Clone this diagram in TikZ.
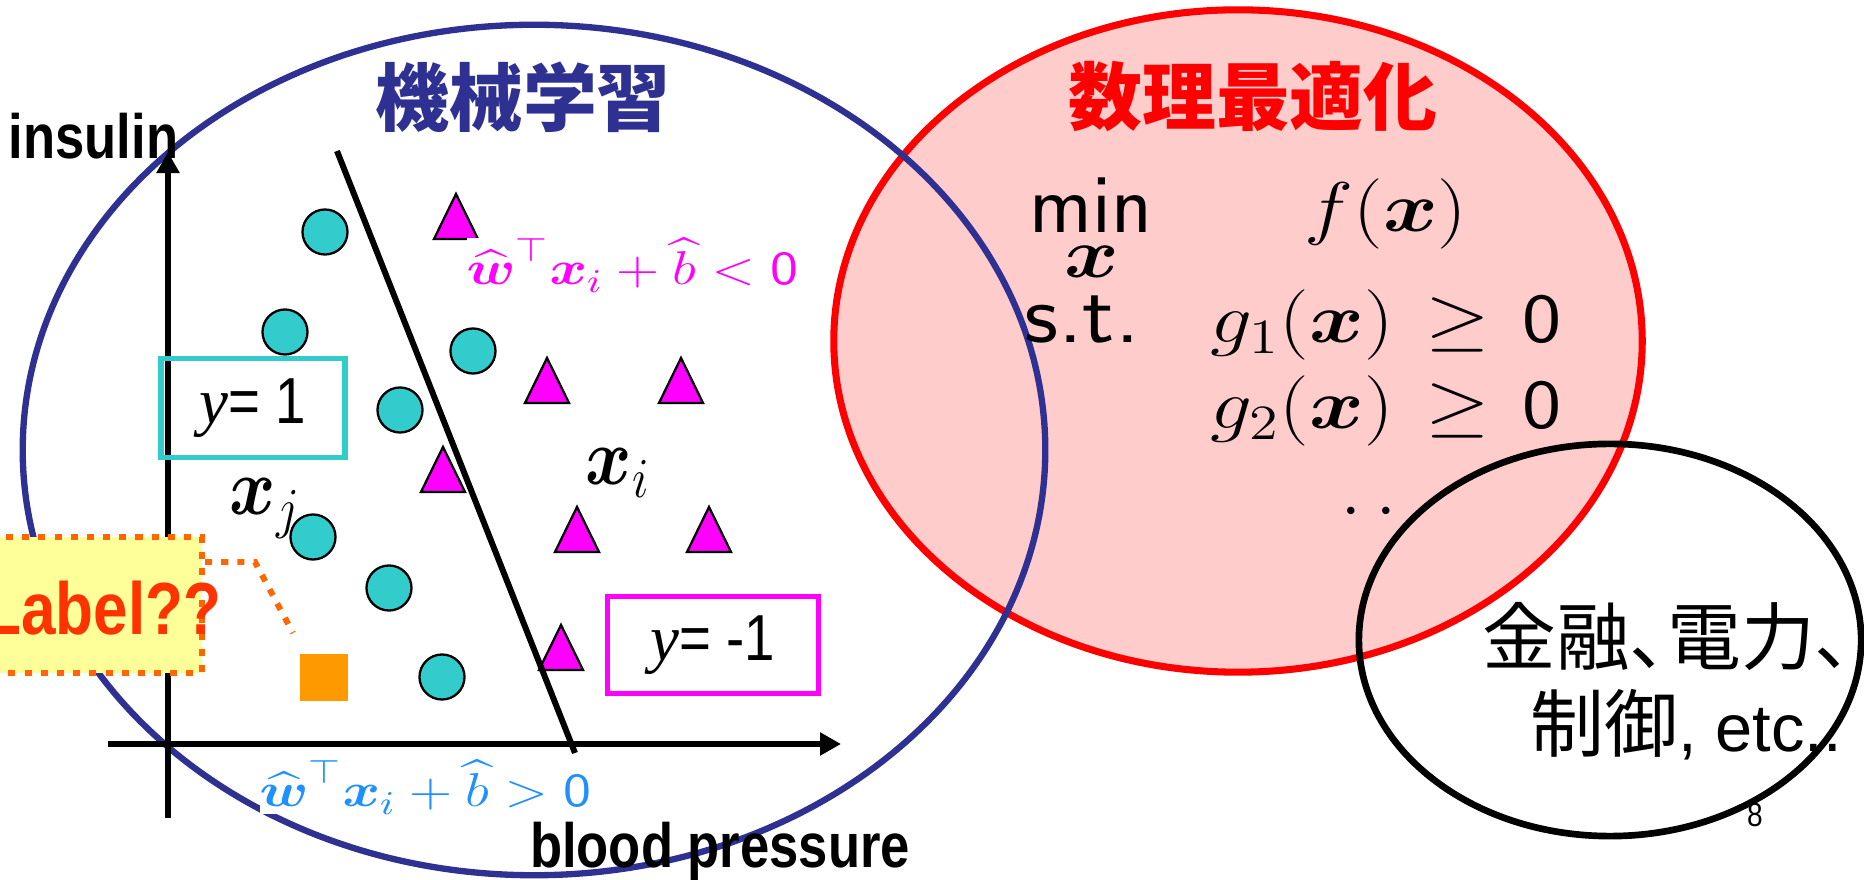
\RequirePackage{fix-cm}
\documentclass[tikz,border=0pt]{standalone}
\usepackage{amsmath,amssymb}
\usepackage{graphicx}
\usepackage{fontspec}
\usetikzlibrary{arrows.meta}
\newfontfamily\cjkfont{Noto Sans CJK JP}
\newfontfamily\cjkpfont{Noto Sans CJK JP}[RawFeature=+palt]
\newfontfamily\narrowsans{Liberation Sans}[FakeStretch=0.84]
\newfontfamily\plainsans{Liberation Sans}
\newfontfamily\timesfont{Liberation Serif}
\definecolor{navy}{HTML}{2E3192}
\definecolor{pinkfill}{HTML}{FFCCCC}
\definecolor{teal2}{HTML}{33CCCC}
\definecolor{mag}{HTML}{FF00FF}
\definecolor{skyblue}{HTML}{1E90FF}
\definecolor{orng}{HTML}{FF9900}
\definecolor{lblyellow}{HTML}{FFFF99}
\definecolor{lblorange}{HTML}{FF6600}
\definecolor{lblred}{HTML}{FF3300}
\newcommand{\wide}[2][1.18]{\scalebox{#1}[1]{#2}}

\begin{document}
\begin{tikzpicture}[x=0.01cm,y=-0.01cm,
    axis/.style={line width=1.7pt,-{Triangle[length=0.21cm,width=0.22cm]}},
    axlbl/.style={font=\narrowsans\bfseries\fontsize{17.8}{20}\selectfont,inner sep=0pt},
    ylbl/.style={rectangle,line width=1.6pt,inner sep=0pt,font=\narrowsans\fontsize{18.5}{20}\selectfont},
    frml/.style={fill=white,inner sep=0pt,anchor=base west,font=\fontsize{13.5}{16}\selectfont},
    optx/.style={inner sep=0pt,anchor=base,font=\fontsize{20}{24}\selectfont},
    optw/.style={inner sep=0pt,anchor=base,font=\sffamily\fontsize{24}{28}\selectfont},
    ptlbl/.style={inner sep=0pt,anchor=base west,font=\fontsize{20}{24}\selectfont},
    ttl/.style={font=\cjkfont\bfseries\fontsize{21}{24}\selectfont,inner sep=0pt},
    callout/.style={lblorange,line width=1.7pt,dash pattern=on 2pt off 2.6pt}]

\useasboundingbox (0,0) rectangle (1864,880);

% the three sets
\filldraw[fill=pinkfill,draw=red,line width=2pt] (1238,341) ellipse [x radius=4.04cm,y radius=3.31cm];
\draw[line width=1.9pt] (1610,640) ellipse [x radius=2.51cm,y radius=1.96cm];
\draw[navy,line width=1.8pt] (534,450) ellipse [x radius=5.11cm,y radius=4.25cm];

% data points
\foreach \cx/\cy in {325/232,285/332,473/351,400/410,313/537,389/588,442/677}
  \filldraw[fill=teal2,line width=0.65pt] (\cx,\cy) circle [radius=0.225cm];
\foreach \tx/\ty in {456/239,547/403,681/403,443/492,577/552,709/552,561/670}
  \filldraw[fill=mag,line width=0.65pt] (\tx-22,\ty) -- (\tx,\ty-45) -- (\tx+22,\ty) -- cycle;
\fill[orng] (300,654) rectangle (348,701);

% decision sides
\node[frml,text=mag] (negside) at (466,285) {\wide[1.2]{$\widehat{\boldsymbol{w}}^{\top}\boldsymbol{x}_i+\widehat{b}<\mathsf{0}$}};
\node[frml,text=skyblue] (posside) at (259,807) {\wide[1.2]{$\widehat{\boldsymbol{w}}^{\top}\boldsymbol{x}_i+\widehat{b}>\mathsf{0}$}};

% axes and separating line
\draw[axis] (168,818) -- (168,152);
\draw[axis] (108,744) -- (841,744);
\draw[line width=1.7pt] (337,151) -- (575,753);

% class boxes
\node[ylbl,draw=teal2,minimum width=1.84cm,minimum height=0.99cm] (ypos) at (253,408) {{\timesfont\itshape y}= 1};
\node[ylbl,draw=mag,minimum width=2.11cm,minimum height=0.97cm] (yneg) at (713,645) {{\timesfont\itshape y}= -1};

\node[ptlbl] (xj) at (229,515) {\scalebox{1}[1.15]{$\boldsymbol{x}_j$}};
\node[ptlbl] (xi) at (585,485) {\scalebox{1}[1.15]{$\boldsymbol{x}_i$}};

% unknown label
\node[rectangle,fill=lblyellow,draw=lblorange,line width=1.7pt,dash pattern=on 2pt off 2.6pt,
      minimum width=2.42cm,minimum height=1.35cm,inner sep=0pt] (lblbox) at (81,605) {};
\node[font=\narrowsans\bfseries\fontsize{21}{24}\selectfont,text=lblred,inner sep=0pt,anchor=base east] (lbltext) at (222,635) {Label??};
\coordinate (callbend) at (255,562);
\coordinate (calltip) at (293,633);
\draw[callout] (lblbox.east |- callbend) -- (callbend) -- (calltip);

% axis labels
\node[axlbl,anchor=base west] (ylab) at (8,159) {insulin};
\node[axlbl,anchor=base] (xlab) at (720,867) {blood pressure};

% titles
\node[ttl,text=navy] (mltitle) at (523,97) {機械学習};
\node[ttl,text=red] (opttitle) at (1253,97) {数理最適化};

% optimisation problem
\node[optw] (optmin) at (1091,233) {min};
\node[inner sep=0pt,font=\fontsize{20}{24}\selectfont] (optvar) at (1092,262) {\wide{$\boldsymbol{x}$}};
\node[optx] (optobj) at (1386,232) {\wide{$f(\boldsymbol{x})$}};
\node[optw] (optst) at (1082,343) {\wide[1.12]{s.t.}};
\node[optx] (optg1) at (1386,343) {\wide{$g_1(\boldsymbol{x})\mkern2mu\geq\mkern2mu\mathsf{0}$}};
\node[optx] (optg2) at (1386,429) {\wide{$g_2(\boldsymbol{x})\mkern2mu\geq\mkern2mu\mathsf{0}$}};
\node[inner sep=0pt,font=\fontsize{20}{24}\selectfont] (optdots) at (1369,513) {${\cdot}\mkern4mu{\cdot}$};

% applications
\node[font=\cjkpfont\fontsize{21}{24}\selectfont,inner sep=0pt,anchor=west] (apps1) at (1482,637) {金融、電力、};
\node[font=\cjkfont\fontsize{21}{24}\selectfont,inner sep=0pt,anchor=base west] (apps2) at (1530,752) {制御{\plainsans\fontsize{19}{22}\selectfont, etc..}};

\node[font=\narrowsans\fontsize{9.5}{11}\selectfont,inner sep=0pt] (pagenum) at (1755,815) {8};

\end{tikzpicture}
\end{document}
